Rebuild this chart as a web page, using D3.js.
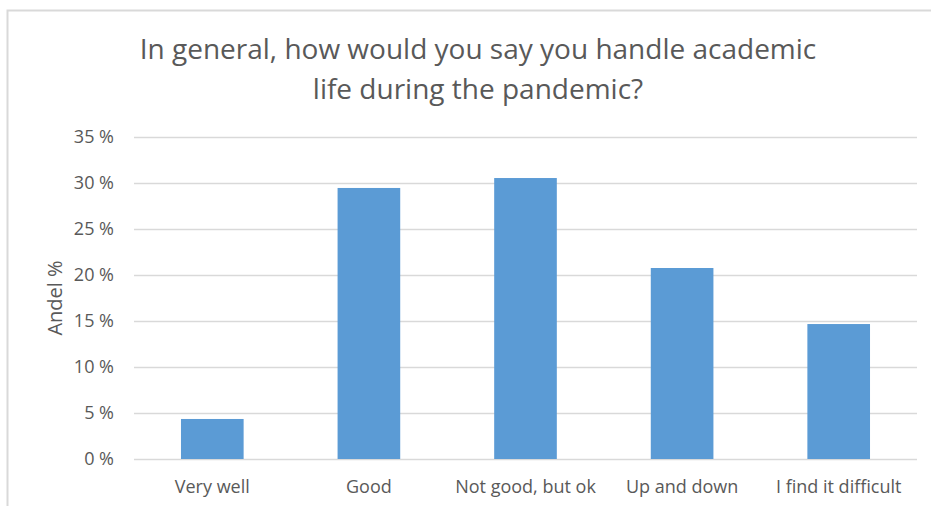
<meta http-equiv="Content-type" content="text/html;charset=UTF-8">
<html>
	<head>
		<script src="https://cdn.jsdelivr.net/npm/d3@7"></script>
		<style>
			body { margin: 0; background: #fff; }
			text { font-family: "Open Sans", "Noto Sans", sans-serif; fill: #595959; }
		</style>
	</head>
	<body>
		<div id="chart"></div>
		<script>
			var SVG_WIDTH = 931, SVG_HEIGHT = 506;
			var categories = ["Very well", "Good", "Not good, but ok", "Up and down", "I find it difficult"];
			var values = [0.0435, 0.2946, 0.3054, 0.2076, 0.1467];
			var yTicks = [0, 0.05, 0.10, 0.15, 0.20, 0.25, 0.30, 0.35];
			var yTickLabels = ["0 %", "5 %", "10 %", "15 %", "20 %", "25 %", "30 %", "35 %"];
			var titleLines = ["In general, how would you say you handle academic", "life during the pandemic?"];
			var yTitle = "Andel %";

			var plotLeft = 134, plotRight = 917, plotTop = 137, plotBottom = 459;

			var svg = d3.select("#chart").append("svg").attr("width", SVG_WIDTH).attr("height", SVG_HEIGHT);

			// chart frame (cropped at right and bottom)
			svg.append("path").attr("d", "M7.5," + SVG_HEIGHT + "V10.5H" + SVG_WIDTH)
				.style("fill", "none").style("stroke", "#d9d9d9").style("stroke-width", 2);

			var x = d3.scaleBand().domain(categories).range([plotLeft, plotRight]).paddingInner(0.6).paddingOuter(0.3);
			var y = d3.scaleLinear().domain([0, 0.35]).range([plotBottom, plotTop]);

			// gridlines
			svg.append("g").selectAll("line").data(yTicks).enter().append("line")
				.attr("x1", plotLeft).attr("x2", plotRight)
				.attr("y1", function(d){ return Math.round(y(d)) + 0.5; })
				.attr("y2", function(d){ return Math.round(y(d)) + 0.5; })
				.style("stroke", "#d9d9d9").style("stroke-width", 1.5);

			// y axis labels
			var yAxis = d3.axisLeft(y).tickValues(yTicks).tickSize(0).tickPadding(0)
				.tickFormat(function(d, i){ return yTickLabels[i]; });
			var gy = svg.append("g").attr("transform", "translate(114,0)").call(yAxis);
			gy.select(".domain").remove();
			gy.selectAll("text").style("font-size", "18px").style("fill", "#595959")
				.style("font-family", "'Open Sans', sans-serif");

			// bars
			svg.append("g").selectAll("rect").data(values).enter().append("rect")
				.attr("x", function(d, i){ return x(categories[i]); })
				.attr("width", x.bandwidth())
				.attr("y", function(d){ return y(d); })
				.attr("height", function(d){ return y(0) - y(d); })
				.style("fill", "#5b9bd5");

			// x axis labels
			var xAxis = d3.axisBottom(x).tickSize(0).tickPadding(0);
			var gx = svg.append("g").attr("transform", "translate(0,480)").call(xAxis);
			gx.select(".domain").remove();
			gx.selectAll("text").style("font-size", "18px").style("fill", "#595959")
				.style("font-family", "'Open Sans', sans-serif");

			// title
			svg.append("g").selectAll("text").data(titleLines).enter().append("text")
				.attr("x", 478).attr("y", function(d, i){ return 59 + i * 40; })
				.attr("text-anchor", "middle")
				.style("font-size", "28px")
				.text(function(d){ return d; });

			// y axis title
			svg.append("text")
				.attr("transform", "translate(62,298) rotate(-90)")
				.attr("text-anchor", "middle")
				.style("font-size", "20px")
				.text(yTitle);
		</script>
	</body>
</html>
